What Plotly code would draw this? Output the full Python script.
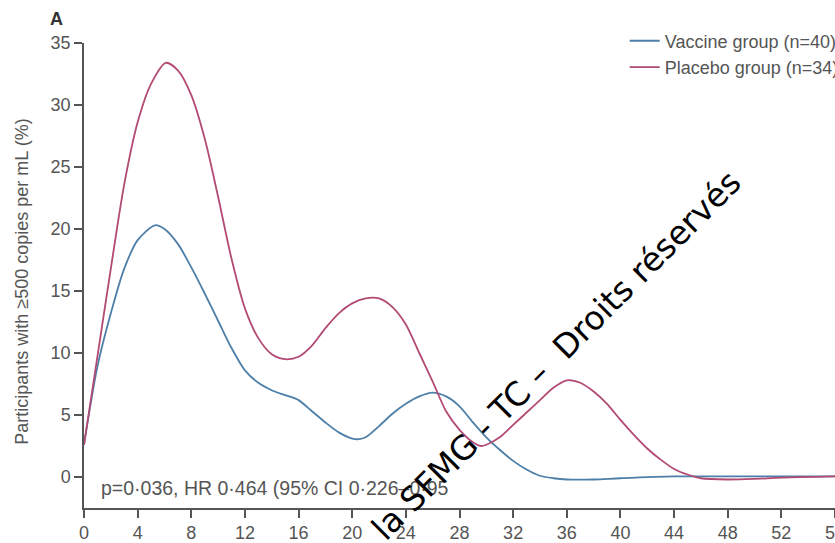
import plotly.graph_objects as go

# Weeks (x) and percentages (y)
vaccine_weeks = [0, 1, 2, 3, 4, 5.3, 6, 7, 8, 9, 10, 11, 12, 13, 14, 15, 16, 17, 18, 19, 20, 20.5, 21, 22, 23,
                 24, 25, 26, 27, 28, 29, 30, 31, 32, 33, 34, 35, 36, 38, 40, 44, 48, 52, 56]
vaccine_pct = [2.6, 8.9, 13.2, 16.8, 19.1, 20.3, 20.0, 18.8, 16.9, 14.8, 12.6, 10.4, 8.6, 7.6, 7.0, 6.6, 6.2,
               5.3, 4.4, 3.6, 3.1, 3.05, 3.2, 4.1, 5.1, 5.9, 6.5, 6.8, 6.5, 5.7, 4.4, 3.2, 2.2, 1.3, 0.6, 0.1,
               -0.1, -0.2, -0.2, -0.1, 0.05, 0.05, 0.05, 0.05]

placebo_weeks = [0, 1, 2, 3, 4, 5, 6.1, 7, 8, 9, 10, 11, 12, 13, 14, 15, 16, 17, 18, 19, 20,
                 21, 22, 23, 24, 25, 26, 27, 28, 29, 29.6, 30, 31, 32, 33, 34, 35, 36, 37, 38, 39, 40, 41,
                 42, 43, 44, 45, 46, 48, 50, 52, 56]
placebo_pct = [2.6, 9.7, 16.8, 23.6, 28.6, 31.7, 33.4, 32.8, 30.8, 27.3, 22.6, 17.6, 13.6, 11.2, 9.9, 9.5,
               9.7, 10.6, 12.0, 13.2, 14.0, 14.4, 14.4, 13.7, 12.3, 10.0, 7.7, 5.3, 3.8, 2.8, 2.5, 2.6, 3.2,
               4.2, 5.2, 6.2, 7.2, 7.8, 7.6, 6.9, 5.9, 4.6, 3.4, 2.3, 1.4, 0.65, 0.2, -0.1, -0.2, -0.15,
               -0.05, 0.05]

x_ticks = list(range(0, 57, 4))
y_ticks = [0, 5, 10, 15, 20, 25, 30, 35]

FONT = "Liberation Sans, Arial, sans-serif"
GREY = "#555555"

fig = go.Figure()
fig.add_trace(go.Scatter(x=vaccine_weeks, y=vaccine_pct, mode="lines", name="Vaccine group (n=40)",
                         line=dict(color="#4d7fa8", width=1.8, shape="spline", smoothing=0.8)))
fig.add_trace(go.Scatter(x=placebo_weeks, y=placebo_pct, mode="lines", name="Placebo group (n=34)",
                         line=dict(color="#b24a74", width=1.8, shape="spline", smoothing=0.8)))

fig.update_layout(
    width=835, height=543,
    margin=dict(l=84, r=0, t=43, b=35, autoexpand=False),
    plot_bgcolor="white", paper_bgcolor="white",
    font=dict(family=FONT, size=18, color=GREY),
    showlegend=True,
    legend=dict(x=0.72, y=1.044, xanchor="left", yanchor="top", bgcolor="rgba(0,0,0,0)",
                font=dict(size=18, color=GREY), tracegroupgap=0, itemwidth=30),
    xaxis=dict(range=[0, 56], tickvals=x_ticks, ticks="outside", ticklen=8, tickwidth=1.5,
               tickcolor=GREY, showline=True, linecolor=GREY, linewidth=1.5, showgrid=False,
               zeroline=False, automargin=False, ticklabeloverflow="allow",
               tickfont=dict(size=18, color=GREY)),
    yaxis=dict(range=[-2.5, 35], tickvals=y_ticks, ticks="outside", ticklen=8, tickwidth=1.5,
               tickcolor=GREY, showline=True, linecolor=GREY, linewidth=1.5, showgrid=False,
               zeroline=False, automargin=False, tickfont=dict(size=18, color=GREY)),
)

fig.add_annotation(text="Participants with ≥500 copies per mL (%)", xref="paper", yref="paper",
                   x=-0.083, y=0.486, textangle=-90, showarrow=False,
                   font=dict(size=18, color=GREY), xanchor="center", yanchor="middle")
fig.add_annotation(text="<b>A</b>", xref="paper", yref="paper", x=-0.036, y=1.052, showarrow=False,
                   xanchor="center", yanchor="middle", font=dict(size=18, color="#333333"))
fig.add_annotation(text="p=0·036, HR 0·464 (95% CI 0·226–0·95", xref="paper", yref="paper",
                   x=0.02, y=0.043, showarrow=False, xanchor="left", yanchor="middle",
                   font=dict(size=19.5, color=GREY))
fig.add_annotation(text="la SFMG - TC –\u00a0\u00a0Droits réservés", xref="paper", yref="paper",
                   x=0.6285, y=0.327, textangle=-45, showarrow=False, xanchor="center", yanchor="middle",
                   font=dict(family="DejaVu Sans", size=33, color="black"))

fig.write_html("out.html", post_script="document.body.style.margin='0';",
               config={"displayModeBar": False})
